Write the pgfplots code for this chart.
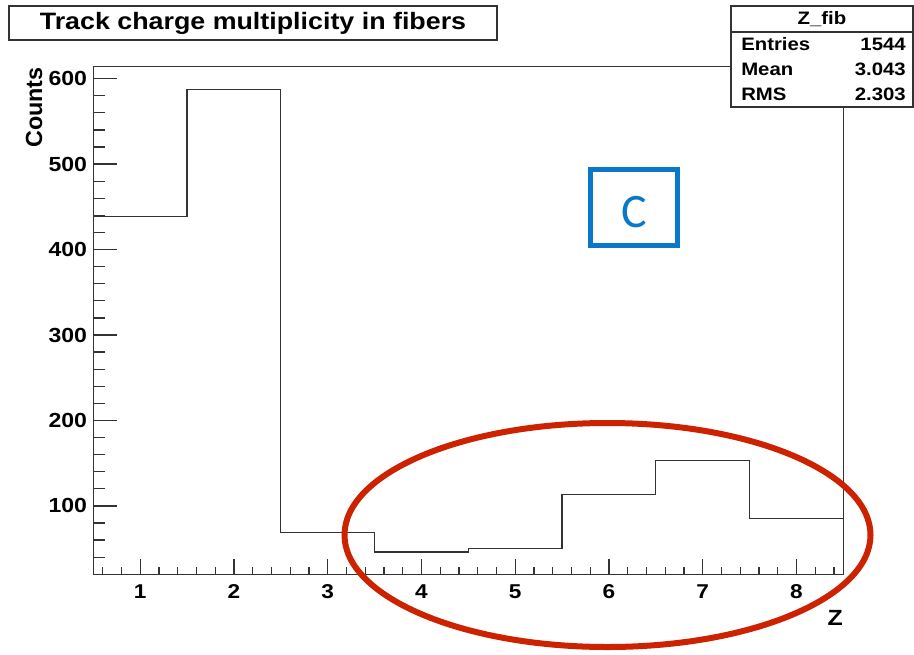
\documentclass[border=0pt]{standalone}
\usepackage{pgfplots}
\pgfplotsset{compat=1.18}
\usepackage{fontspec}
\setmainfont{Liberation Sans}
\newfontfamily\rootfont[FakeStretch=1.13]{Liberation Sans}
\newfontfamily\calib{Carlito}
\definecolor{framec}{HTML}{333333}
\definecolor{boxblue}{HTML}{0A78C8}
\definecolor{ellred}{HTML}{CC2200}
\begin{document}
\begin{tikzpicture}
\begin{scope}[x=0.75pt,y=-0.75pt]
\path[use as bounding box] (0,0) rectangle (914,654);
\end{scope}
% x ticks axis
\begin{axis}[at={(69.975pt,-431.025pt)}, anchor=south west, scale only axis,
  width=562.5pt, height=381pt,
  xmin=0.5, xmax=8.5, ymin=19.5, ymax=614,
  axis line style={framec, line width=0.95pt},
  tick style={framec, line width=0.95pt},
  tick align=inside, tick pos=left,
  ytick=\empty,
  xtick={1,2,3,4,5,6,7,8},
  minor xtick={0.6,0.8,1.2,1.4,1.6,1.8,2.2,2.4,2.6,2.8,3.2,3.4,3.6,3.8,4.2,4.4,4.6,4.8,5.2,5.4,5.6,5.8,6.2,6.4,6.6,6.8,7.2,7.4,7.6,7.8,8.2,8.4},
  major tick length=11.5pt, minor tick length=5.5pt,
  /pgf/number format/assume math mode=true,
  xticklabel style={font=\rootfont\bfseries\fontsize{15}{15}\selectfont, inner sep=0pt, yshift=-7pt},
]
\end{axis}
% y ticks axis + data
\begin{axis}[at={(69.975pt,-431.025pt)}, anchor=south west, scale only axis,
  width=562.5pt, height=381pt,
  xmin=0.5, xmax=8.5, ymin=19.5, ymax=614,
  axis line style={framec, line width=0.95pt},
  tick style={framec, line width=0.95pt},
  tick align=inside, tick pos=left,
  xtick=\empty,
  ytick={100,200,300,400,500,600},
  minor ytick={20,40,60,80,120,140,160,180,220,240,260,280,320,340,360,380,420,440,460,480,520,540,560,580},
  major tick length=17.5pt, minor tick length=8.8pt,
  /pgf/number format/assume math mode=true,
  yticklabel style={font=\rootfont\bfseries\fontsize{15.3}{15.3}\selectfont, inner sep=0pt, xshift=-4.5pt},
]
\addplot[const plot, framec, line width=0.95pt] coordinates {
(0.5,439) (1.5,587) (2.5,69) (3.5,46) (4.5,50) (5.5,113) (6.5,153) (7.5,85) (8.5,85)};
\end{axis}
\begin{scope}[x=0.75pt,y=-0.75pt]
% title box
\draw[framec, line width=0.95pt, fill=white] (9,6) rectangle (497,40);
\node[inner sep=0pt, font=\rootfont\bfseries\fontsize{17.8}{17.8}\selectfont] at (253,23) {Track charge multiplicity in fibers};
% stats box
\draw[framec, line width=0.95pt, fill=white] (731,6) rectangle (913,107);
\draw[framec, line width=0.95pt] (731,32) -- (913,32);
\begin{scope}[every node/.style={inner sep=0pt, font=\rootfont\bfseries\fontsize{13.5}{13.5}\selectfont}]
\node at (822,19) {Z\_fib};
\node[anchor=west] at (741,44) {Entries};
\node[anchor=west] at (741,69) {Mean};
\node[anchor=west] at (741,94) {RMS};
\node[anchor=east] at (906,44) {1544};
\node[anchor=east] at (906,69) {3.043};
\node[anchor=east] at (906,94) {2.303};
\end{scope}
% axis titles
\node[rotate=90, anchor=east, inner sep=0pt, font=\bfseries\fontsize{17.5}{17.5}\selectfont] at (34,67) {Counts};
\node[anchor=south east, inner sep=0pt, font=\rootfont\bfseries\fontsize{16.5}{16.5}\selectfont] at (843,626) {Z};
% blue box
\draw[boxblue, line width=3.8pt] (590.5,169.5) rectangle (677.5,245.5);
\node[boxblue, inner sep=0pt, font=\calib\fontsize{36}{36}\selectfont] at (634,212) {C};
% red ellipse
\draw[ellred, line width=4.5pt] (607.5,535) ellipse [x radius=263, y radius=112];
\end{scope}
\end{tikzpicture}
\end{document}
